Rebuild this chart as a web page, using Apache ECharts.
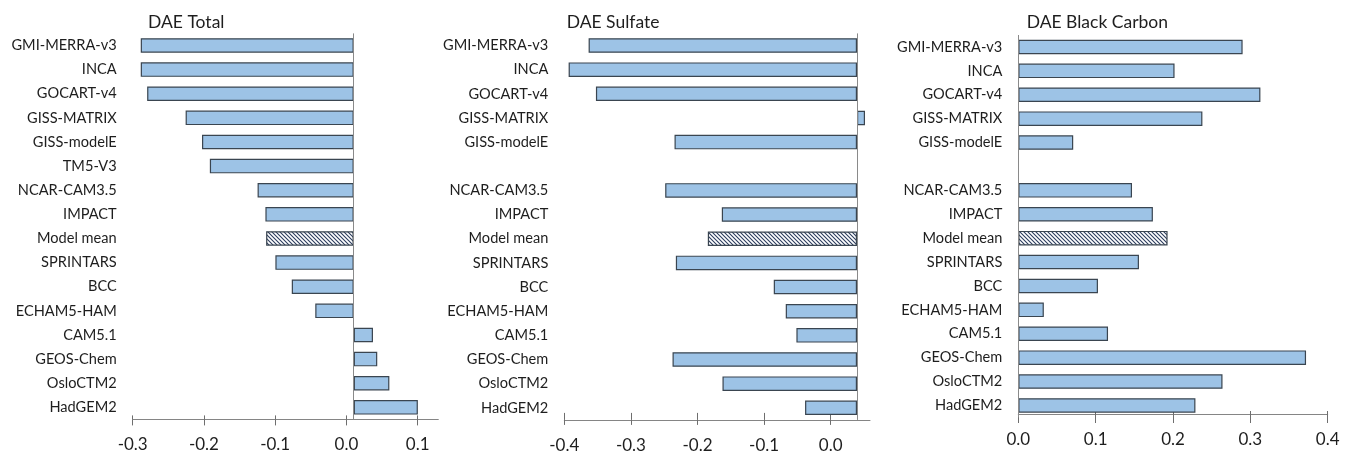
<!DOCTYPE html>
<html><head><meta charset="utf-8">
<script src="https://cdn.jsdelivr.net/npm/echarts@6/dist/echarts.min.js"></script>
<style>html,body{margin:0;padding:0;background:#fff}#c{width:1357px;height:460px}</style>
</head><body><div id="c"></div>
<script>
// ---- data ----
const modelsTotal = ['GMI-MERRA-v3','INCA','GOCART-v4','GISS-MATRIX','GISS-modelE','TM5-V3','NCAR-CAM3.5','IMPACT','Model mean','SPRINTARS','BCC','ECHAM5-HAM','CAM5.1','GEOS-Chem','OsloCTM2','HadGEM2'];
const modelsSpecies = ['GMI-MERRA-v3','INCA','GOCART-v4','GISS-MATRIX','GISS-modelE','','NCAR-CAM3.5','IMPACT','Model mean','SPRINTARS','BCC','ECHAM5-HAM','CAM5.1','GEOS-Chem','OsloCTM2','HadGEM2'];
const daeTotal   = [-0.299,-0.299,-0.290,-0.236,-0.213,-0.202,-0.135,-0.124,-0.123,-0.110,-0.087,-0.054,0.027,0.033,0.050,0.090];
const daeSulfate = [-0.403,-0.433,-0.392,0.012,-0.274,null,-0.288,-0.203,-0.224,-0.272,-0.125,-0.107,-0.091,-0.277,-0.202,-0.078];
const daeBC      = [0.290,0.202,0.313,0.238,0.071,null,0.147,0.174,0.193,0.156,0.103,0.033,0.116,0.372,0.264,0.229];
const ticksTotal   = [-0.3,-0.2,-0.1,0.0,0.1];
const ticksSulfate = [-0.4,-0.3,-0.2,-0.1,0.0];
const ticksBC      = [0.0,0.1,0.2,0.3,0.4];
const titles = ['DAE Total','DAE Sulfate','DAE Black Carbon'];
const meanLabel = 'Model mean';

// ---- layout ----
const FONT = 'Lato';
const panels = [
  {cats: modelsTotal, vals: daeTotal, ticks: ticksTotal, title: titles[0],
   left: 132.7, width: 305.6, top: 33.4, height: 386, min: -0.3, max: 0.129, base: 0.0103,
   tin: 4, tout: 6, off: 0, titleLeft: 143},
  {cats: modelsSpecies, vals: daeSulfate, ticks: ticksSulfate, title: titles[1],
   left: 564.3, width: 305.7, top: 33.4, height: 386.5, min: -0.4, max: 0.059, base: 0.0395,
   tin: 7, tout: 5, off: 0, titleLeft: 561.7},
  {cats: modelsSpecies, vals: daeBC, ticks: ticksBC, title: titles[2],
   left: 1018.3, width: 309.4, top: 35, height: 382.4, min: 0, max: 0.4, base: 0,
   tin: 3, tout: 9, off: -3.4, titleLeft: 1021.7}
];

function hatch(){
  const c = document.createElement('canvas'); c.width = 4; c.height = 4;
  const g = c.getContext('2d');
  g.fillStyle = '#ffffff'; g.fillRect(0,0,4,4);
  g.strokeStyle = '#2c3d5e'; g.lineWidth = 1.1;
  g.beginPath();
  g.moveTo(-1,-1); g.lineTo(5,5);
  g.moveTo(-1,3); g.lineTo(1,5);
  g.moveTo(3,-1); g.lineTo(5,1);
  g.stroke();
  return c;
}
const hatchImg = hatch();

const option = {animation: false, backgroundColor: '#fff', title: [], grid: [], xAxis: [], yAxis: [], series: []};
const fmt = v => (Math.abs(v) < 1e-9 ? 0 : v).toFixed(1);

panels.forEach((p, k) => {
  option.title.push({text: p.title, left: p.titleLeft, top: 8,
    textStyle: {fontFamily: FONT, fontSize: 17.5, fontWeight: 'normal', color: '#1e1e1e'}});
  option.grid.push({left: p.left, top: p.top, width: p.width, height: p.height, containLabel: false});
  // visible axis with outward ticks and labels
  option.xAxis.push({type: 'value', gridIndex: k, min: p.min, max: p.max, position: 'bottom', offset: p.off,
    axisLine: {show: true, lineStyle: {color: '#858585', width: 1}},
    axisTick: {show: true, customValues: p.ticks, length: p.tout, lineStyle: {color: '#6e6e6e', width: 1}},
    axisLabel: {show: true, customValues: p.ticks, formatter: fmt, margin: 17,
      fontFamily: FONT, fontSize: 17, color: '#1e1e1e'},
    splitLine: {show: false}});
  // inward part of crossing ticks
  option.xAxis.push({type: 'value', gridIndex: k, min: p.min, max: p.max, position: 'bottom', offset: p.off,
    axisLine: {show: false},
    axisTick: {show: true, inside: true, customValues: p.ticks, length: p.tin, lineStyle: {color: '#6e6e6e', width: 1}},
    axisLabel: {show: false}, splitLine: {show: false}});
  // hidden axis used by bars (zero at the vertical baseline)
  option.xAxis.push({type: 'value', gridIndex: k, min: p.min - p.base, max: p.max - p.base, show: false,
    splitLine: {show: false}});
  option.yAxis.push({type: 'category', gridIndex: k, data: p.cats, inverse: true,
    axisLine: {show: false}, axisTick: {show: false}, splitLine: {show: false},
    axisLabel: {margin: 16, fontFamily: FONT, fontSize: 14.6, color: '#1e1e1e'}});
  option.series.push({type: 'bar', xAxisIndex: 3*k + 2, yAxisIndex: k, barWidth: 14.5,
    data: p.vals.map((v, i) => {
      const item = {value: v};
      if (modelsTotal[i] === meanLabel) item.itemStyle = {color: {image: hatchImg, repeat: 'repeat'}};
      return item;
    }),
    itemStyle: {color: '#9dc3e6', borderColor: '#3a4550', borderWidth: 1.2},
    markLine: {silent: true, symbol: ['none','none'], label: {show: false},
      lineStyle: {color: '#8a8a8a', width: 1, type: 'solid'}, data: [{xAxis: 0}]}
  });
});

const chart = echarts.init(document.getElementById('c'), null, {renderer: 'canvas'});
chart.setOption(option);
</script>
</body></html>
